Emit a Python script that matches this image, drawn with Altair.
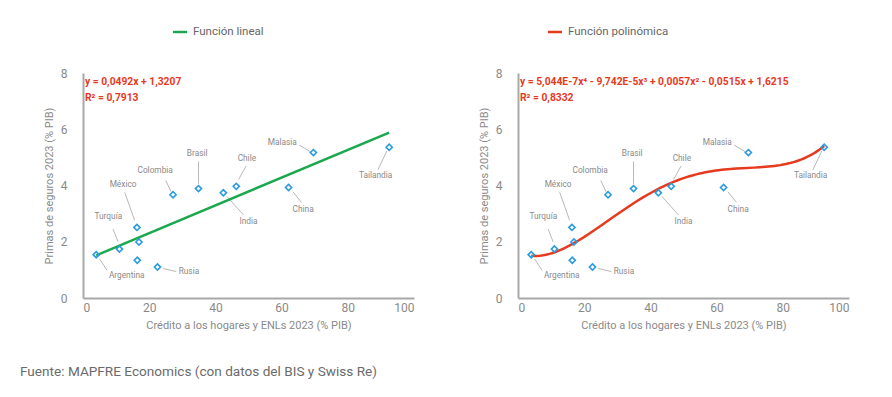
import altair as alt
import pandas as pd

# ---- data ----
credit = [4.0, 11.0, 16.3, 16.9, 16.4, 22.5, 27.2, 34.9, 42.4, 46.3, 62.1, 69.6, 92.5]
premiums = [1.54, 1.74, 2.51, 1.99, 1.34, 1.10, 3.67, 3.89, 3.74, 3.97, 3.93, 5.17, 5.36]

label_names = ["Argentina", "Turquía", "México", "Rusia", "Colombia", "Brasil",
               "India", "Chile", "China", "Malasia", "Tailandia"]
label_x = [13.2, 7.65, 12.1, 32.0, 21.8, 34.5, 50.0, 49.5, 66.5, 60.2, 88.4]
label_y = [0.78, 2.88, 4.02, 0.92, 4.53, 5.12, 2.70, 4.95, 3.14, 5.52, 4.34]
lead_x1 = [5.0, 9.1, 12.6, 24.2, 25.0, 34.9, 43.5, 49.3, 63.4, 65.3, 91.8]
lead_y1 = [1.39, 2.45, 3.76, 1.05, 4.18, 4.85, 3.61, 4.70, 3.78, 5.44, 5.23]
lead_x2 = [7.3, 10.6, 15.6, 28.2, 26.6, 34.9, 48.5, 47.0, 66.0, 68.7, 89.1]
lead_y2 = [0.98, 2.00, 2.76, 0.94, 3.78, 4.06, 2.95, 4.21, 3.40, 5.20, 4.56]

x_ticks = [0, 20, 40, 60, 80, 100]
y_ticks = [0, 2, 4, 6, 8]

eq_lin = ["y = 0,0492x + 1,3207", "R² = 0,7913"]
eq_poly = ["y = 5,044E-7x⁴ - 9,742E-5x³ + 0,0057x² - 0,0515x + 1,6215", "R² = 0,8332"]

x_title = "Crédito a los hogares y ENLs 2023 (% PIB)"
y_title = "Primas de seguros 2023 (% PIB)"
source = "Fuente: MAPFRE Economics (con datos del BIS y Swiss Re)"

pts = pd.DataFrame({"credit": credit, "premium": premiums})
labs = pd.DataFrame({"name": label_names, "lx": label_x, "ly": label_y,
                     "x1": lead_x1, "y1": lead_y1, "x2": lead_x2, "y2": lead_y2})

W, H = 331, 225
GREEN = "#1aa84f"
RED = "#e63a1e"
BLUE = "#2b9be0"
FONT = "Roboto"

xs = alt.Scale(domain=[0, 100], nice=False)
ys = alt.Scale(domain=[0, 8], nice=False)
xax = alt.Axis(values=x_ticks)
yax = alt.Axis(values=y_ticks)


def X(f):
    return alt.X(f, scale=xs, title=x_title, axis=xax)


def Y(f):
    return alt.Y(f, scale=ys, title=y_title, axis=yax)


def panel(method, color, eqs, legend_text, leg_x0, show_source):
    base = alt.Chart(pts)

    leaders = alt.Chart(labs).mark_rule(color="#b8b8b8", strokeWidth=1).encode(
        x=X("x1:Q"), y=Y("y1:Q"), x2="x2:Q", y2="y2:Q")
    names = alt.Chart(labs).mark_text(font=FONT, fontSize=8.3, color="#8a8a8a").encode(
        x=X("lx:Q"), y=Y("ly:Q"), text="name:N")

    if method == "linear":
        reg = base.transform_regression("credit", "premium", method="linear")
    else:
        reg = base.transform_regression("credit", "premium", method="poly", order=4)
    fit = reg.mark_line(color=color, strokeWidth=2.5).encode(x=X("credit:Q"), y=Y("premium:Q"))

    points = base.mark_point(shape="diamond", filled=False, color=BLUE,
                             strokeWidth=1.6, size=38, opacity=1).encode(
        x=X("credit:Q"), y=Y("premium:Q"))

    eq_layers = []
    for i, t in enumerate(eqs):
        eq_layers.append(
            alt.Chart(pd.DataFrame({"t": [t]})).mark_text(
                font=FONT, fontSize=10.3, fontWeight="bold", color=RED,
                align="left", baseline="middle").encode(
                x=alt.value(2), y=alt.value(9 + 16 * i), text="t:N"))

    legdf = pd.DataFrame({"t": [legend_text]})
    leg_line = alt.Chart(legdf).mark_rule(color=color, strokeWidth=2.5).encode(
        x=alt.value(leg_x0), x2=alt.value(leg_x0 + 14), y=alt.value(-41))
    leg_text = alt.Chart(legdf).mark_text(font=FONT, fontSize=11.5, color="#666666",
                                          align="left", baseline="middle").encode(
        x=alt.value(leg_x0 + 20), y=alt.value(-41), text="t:N")

    layers = [leaders, names, fit, points] + eq_layers + [leg_line, leg_text]
    if show_source:
        srcdf = pd.DataFrame({"t": [source]})
        src = alt.Chart(srcdf).mark_text(font=FONT, fontSize=13.6, color="#6b6b6b",
                                         align="left", baseline="middle").encode(
            x=alt.value(-63), y=alt.value(299), text="t:N")
        layers.append(src)
    return alt.layer(*layers).properties(width=W, height=H)


left = panel("linear", GREEN, eq_lin, "Función lineal", 90, True)
right = panel("poly", RED, eq_poly, "Función polinómica", 30, False)

chart = alt.hconcat(left, right, spacing=64).properties(
    padding={"left": 12, "top": 18, "right": 5, "bottom": 5}
).configure_view(stroke=None).configure_axis(
    domainColor="#a8a8a8", domainWidth=2, ticks=False, grid=False,
    labelColor="#8a8a8a", labelFontSize=12, labelFont=FONT,
    titleColor="#8a8a8a", titleFontSize=11, titleFont=FONT, titleFontWeight="normal"
).configure_axisX(labelPadding=4, titlePadding=6).configure_axisY(
    labelPadding=16, titlePadding=6)

chart.save("out.html", embed_options={"renderer": "svg", "actions": False})
